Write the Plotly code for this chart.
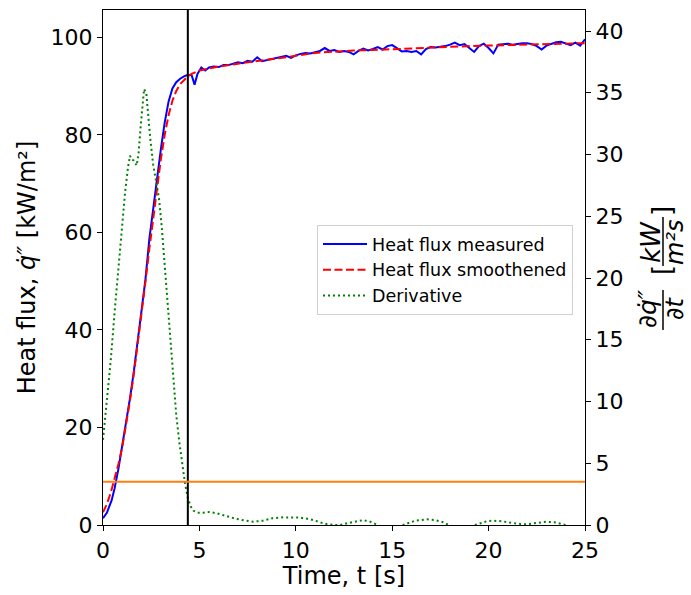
import plotly.graph_objects as go

# ---------------- data ----------------
t_meas = [0.0, 0.2, 0.45, 0.6, 0.8, 1.0, 1.2, 1.4, 1.6, 1.8, 2.0, 2.2, 2.4, 2.6, 2.8, 3.0,
          3.2, 3.4, 3.6, 3.8, 4.0, 4.2, 4.4, 4.6, 4.75, 4.9, 5.1, 5.3, 5.5, 5.75, 6.0, 6.25,
          6.5, 6.75, 7.0, 7.25, 7.5, 7.75, 8.0, 8.25, 8.5, 8.75, 9.0, 9.25, 9.5, 9.75, 10.0,
          10.25, 10.5, 10.75, 11.0, 11.25, 11.5, 11.75, 12.0, 12.25, 12.5, 12.75, 13.0, 13.25,
          13.5, 13.75, 14.0, 14.25, 14.5, 14.75, 15.0, 15.25, 15.5, 15.75, 16.0, 16.25, 16.5,
          16.75, 17.0, 17.25, 17.5, 17.75, 18.0, 18.25, 18.5, 18.75, 19.0, 19.25, 19.5, 19.75,
          20.0, 20.25, 20.5, 20.75, 21.0, 21.25, 21.5, 21.75, 22.0, 22.25, 22.5, 22.75, 23.0,
          23.25, 23.5, 23.75, 24.0, 24.25, 24.5, 24.75, 25.0]
q_meas = [1.4, 2.5, 5.1, 7.5, 11.5, 16.2, 21.0, 26.0, 31.5, 37.5, 43.8, 50.3, 58.5, 65.0,
          71.3, 77.0, 82.5, 86.8, 89.5, 90.8, 91.5, 92.0, 92.3, 92.2, 90.3, 92.5, 93.8, 93.2,
          93.8, 94.0, 93.9, 94.3, 94.3, 94.6, 94.9, 94.7, 95.2, 95.0, 95.9, 95.1, 95.3, 95.6,
          95.7, 96.0, 96.2, 95.8, 96.3, 96.6, 96.8, 96.7, 96.9, 97.2, 97.8, 97.2, 97.4, 97.0,
          97.2, 97.0, 96.5, 97.2, 97.7, 97.3, 97.6, 98.0, 97.5, 98.2, 98.4, 97.8, 97.1, 97.2,
          97.0, 97.2, 96.5, 97.6, 98.0, 97.9, 98.0, 98.2, 98.5, 98.9, 98.4, 98.6, 97.8, 97.0,
          98.2, 98.7, 97.8, 96.7, 98.5, 98.6, 98.7, 98.5, 98.7, 98.8, 98.8, 98.6, 98.2, 97.5,
          98.3, 98.7, 99.0, 99.1, 98.8, 98.4, 98.9, 98.3, 99.6]

t_smooth = [0.0, 0.2, 0.4, 0.6, 0.8, 1.0, 1.2, 1.4, 1.6, 1.8, 2.0, 2.2, 2.4, 2.6, 2.8, 3.0,
            3.2, 3.4, 3.6, 3.8, 4.0, 4.2, 4.4, 4.6, 5.0, 5.5, 6.0, 7.0, 8.0, 9.0, 10.0, 11.0,
            12.0, 13.0, 14.0, 15.0, 16.0, 17.0, 18.0, 19.0, 20.0, 21.0, 22.0, 23.0, 24.0, 25.0]
q_smooth = [2.6, 4.3, 6.6, 9.3, 12.5, 16.0, 20.5, 25.5, 31.0, 37.0, 43.3, 49.8, 56.5, 63.0,
            69.3, 75.0, 80.0, 84.0, 87.0, 89.0, 90.4, 91.3, 92.0, 92.5, 93.2, 93.6, 94.0,
            94.6, 95.1, 95.6, 96.2, 96.8, 97.1, 97.3, 97.4, 97.5, 97.7, 97.9, 98.1, 98.2,
            98.3, 98.4, 98.5, 98.6, 98.7, 98.8]

t_deriv = [0.0, 0.1, 0.25, 0.4, 0.6, 0.8, 1.0, 1.15, 1.3, 1.4, 1.5, 1.6, 1.75, 1.85, 1.95,
           2.05, 2.13, 2.25, 2.35, 2.45, 2.6, 2.75, 2.9, 3.05, 3.2, 3.35, 3.5, 3.65, 3.8,
           3.95, 4.1, 4.25, 4.4, 4.55, 4.7, 4.9, 5.2, 5.5, 5.9, 6.3, 6.9, 7.4, 7.8, 8.3, 8.8,
           9.35, 9.8, 10.2, 10.6, 10.9, 11.3, 11.6, 12.0, 12.3, 12.7, 13.1, 13.5, 13.9, 14.2,
           14.5, 15.0, 15.4, 15.75, 16.2, 16.8, 17.2, 17.6, 17.9, 18.3, 18.8, 19.2, 19.5,
           19.9, 20.2, 20.7, 21.1, 21.5, 21.8, 22.2, 22.6, 23.0, 23.5, 23.8, 24.0, 24.2]
dq_deriv = [6.9, 8.5, 10.8, 13.3, 17.2, 20.8, 24.4, 27.0, 29.0, 29.9, 29.6, 29.5, 29.1,
            30.2, 32.2, 34.3, 35.3, 34.9, 33.0, 31.3, 29.2, 27.8, 26.5, 24.1, 21.1, 17.6,
            14.4, 11.5, 8.9, 6.8, 5.0, 3.4, 2.2, 1.5, 1.15, 1.0, 1.0, 1.05, 0.95, 0.75, 0.5,
            0.35, 0.27, 0.35, 0.55, 0.62, 0.6, 0.6, 0.5, 0.4, 0.2, 0.08, 0.0, 0.0, 0.15, 0.3,
            0.4, 0.25, 0.05, -0.2, -0.3, -0.1, 0.13, 0.35, 0.46, 0.4, 0.25, 0.02, -0.2, -0.25,
            -0.05, 0.08, 0.3, 0.35, 0.3, 0.2, 0.1, 0.05, 0.1, 0.2, 0.27, 0.2, 0.1, 0.0, -0.1]

t_event = 4.4          # vertical marker
threshold = 3.5        # derivative threshold (right axis)

x_ticks = [0, 5, 10, 15, 20, 25]
y_ticks = [0, 20, 40, 60, 80, 100]
y2_ticks = [0, 5, 10, 15, 20, 25, 30, 35, 40]

# ---------------- figure ----------------
W, H = 691, 595
L, R, T, B = 103, 106, 10, 70
FONT = "DejaVu Sans"

fig = go.Figure()
fig.add_trace(go.Scatter(x=t_meas, y=q_meas, mode="lines", name="Heat flux measured",
                         line=dict(color="#0000ff", width=2)))
fig.add_trace(go.Scatter(x=t_smooth, y=q_smooth, mode="lines", name="Heat flux smoothened",
                         line=dict(color="#ff0000", width=2, dash="8px,3.5px")))
fig.add_trace(go.Scatter(x=t_deriv, y=dq_deriv, mode="lines", name="Derivative", yaxis="y2",
                         line=dict(color="#008000", width=2, dash="2px,3px")))

fig.add_shape(type="line", xref="x", yref="paper", x0=t_event, x1=t_event, y0=0, y1=1,
              line=dict(color="black", width=2))
fig.add_shape(type="line", xref="paper", yref="y2", x0=0, x1=1, y0=threshold, y1=threshold,
              line=dict(color="#ff7f0e", width=2))

pw, ph = W - L - R, H - T - B
def px2x(px):
    return (px - L) / pw
def py2y(py):
    return (H - B - py) / ph

# right axis label built as stacked fraction pieces
pieces = [
    ("\u2202<i>q\u0307\u2033</i>", 647, 309, 25),
    ("\u2202<i>t</i>", 675, 309, 24),
    ("<i>kW</i>", 651, 242, 26),
    ("<i>m\u00b2s</i>", 675, 242, 24),
    ("[", 662, 270, 26),
    ("]", 662, 211, 26),
]
for txt, px, py, fs in pieces:
    fig.add_annotation(text=txt, x=px2x(px), y=py2y(py), xref="paper", yref="paper",
                       showarrow=False, textangle=-90, xanchor="center", yanchor="middle",
                       font=dict(family=FONT, size=fs, color="black"))
for y0, y1 in [(290, 330), (217, 266)]:
    fig.add_shape(type="line", xref="paper", yref="paper", x0=px2x(663), x1=px2x(663),
                  y0=py2y(y0), y1=py2y(y1), line=dict(color="black", width=1.5))

axis_common = dict(showline=True, linecolor="black", linewidth=1.2, ticks="outside",
                   ticklen=5, tickwidth=1.2, tickcolor="black", showgrid=False,
                   zeroline=False, tickfont=dict(family=FONT, size=22, color="black"))

fig.update_layout(
    width=W, height=H,
    margin=dict(l=L, r=R, t=T, b=B, autoexpand=False),
    paper_bgcolor="white", plot_bgcolor="white",
    font=dict(family=FONT, color="black"),
    xaxis=dict(range=[0, 25], tickvals=x_ticks, mirror=True,
               title=dict(text="Time, t [s]", font=dict(family=FONT, size=24), standoff=4),
               **axis_common),
    yaxis=dict(range=[0, 105.6], tickvals=y_ticks,
               title=dict(text="Heat flux, <i>q\u0307\u2033</i> [kW/m\u00b2]",
                          font=dict(family=FONT, size=24), standoff=8),
               **axis_common),
    yaxis2=dict(range=[0, 41.7], tickvals=y2_ticks, overlaying="y", side="right",
                **axis_common),
    legend=dict(x=px2x(317), y=py2y(225), xanchor="left", yanchor="top",
                bgcolor="rgba(255,255,255,0.8)", bordercolor="#d0d0d0", borderwidth=1,
                font=dict(family=FONT, size=17.5, color="black"), tracegroupgap=0,
                itemwidth=44),
    showlegend=True,
)

fig.write_html("out.html")
